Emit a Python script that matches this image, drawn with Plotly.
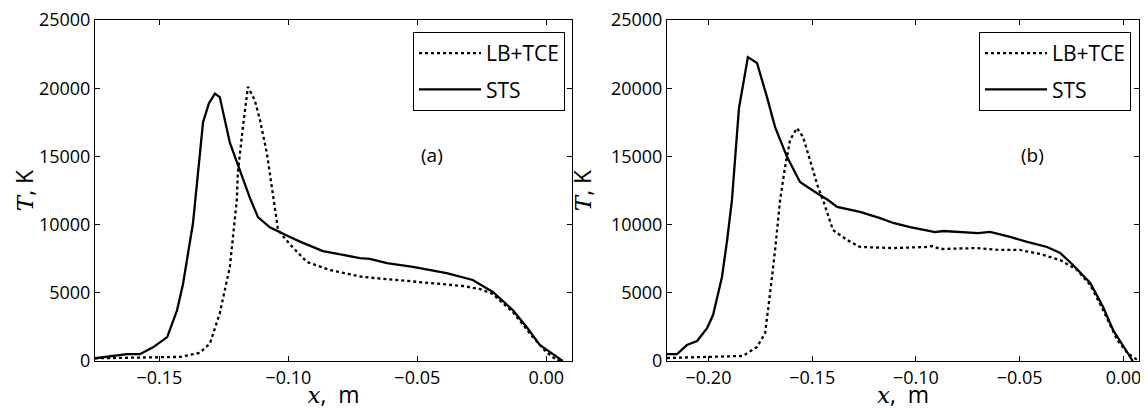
import plotly.graph_objects as go

# ---------- data ----------
# Panel (a)
a_sts_x = [-0.175, -0.1626, -0.1576, -0.1525, -0.147, -0.1432, -0.1409, -0.137, -0.1331, -0.1308,
           -0.1285, -0.1266, -0.1227, -0.1188, -0.115, -0.1118, -0.1072, -0.1006, -0.0955, -0.0866,
           -0.0828, -0.0723, -0.0684, -0.0618, -0.0517, -0.0386, -0.0285, -0.0207, -0.013, -0.0076,
           -0.0025, 0.0025, 0.0064]
a_sts_T = [200, 500, 500, 1000, 1750, 3700, 5600, 10100, 17500, 18900,
           19600, 19350, 16000, 14000, 12000, 10550, 9800, 9200, 8750, 8060,
           7920, 7550, 7480, 7180, 6900, 6450, 5940, 5060, 3740, 2500,
           1170, 510, 0]
a_lb_x = [-0.175, -0.142, -0.1343, -0.1304, -0.1266, -0.1227, -0.12, -0.1196, -0.1176, -0.1157,
          -0.113, -0.111, -0.1083, -0.106, -0.104, -0.0994, -0.0928, -0.0839, -0.0711, -0.058,
          -0.0452, -0.0324, -0.0258, -0.0207, -0.013, -0.0052, 0.0, 0.004, 0.006]
a_lb_T = [200, 300, 600, 1300, 3500, 6900, 11800, 13800, 17200, 20100,
          19100, 17650, 15200, 12000, 9600, 8550, 7260, 6670, 6160, 5940,
          5720, 5500, 5280, 4910, 3600, 1760, 660, 70, 0]

# Panel (b)
b_sts_x = [-0.22, -0.2152, -0.2104, -0.2055, -0.2007, -0.1978, -0.1935, -0.191, -0.1887, -0.1853,
           -0.181, -0.1766, -0.1718, -0.1679, -0.1621, -0.1559, -0.1477, -0.1424, -0.138, -0.1318,
           -0.127, -0.1173, -0.111, -0.1028, -0.098, -0.0908, -0.0869, -0.0787, -0.07, -0.0643,
           -0.0546, -0.0464, -0.0368, -0.0305, -0.0243, -0.016, -0.0098, -0.005, 0.0, 0.0033, 0.0045]
b_sts_T = [500, 500, 1170, 1470, 2400, 3370, 6160, 8870, 11800, 18550,
           22280, 21840, 19350, 17150, 14950, 13120, 12300, 11800, 11300, 11070,
           10930, 10480, 10120, 9820, 9680, 9450, 9530, 9450, 9380, 9460,
           9100, 8730, 8360, 7920, 7040, 5720, 3960, 2270, 1030, 220, 0]
b_lb_x = [-0.22, -0.2026, -0.1834, -0.1766, -0.1727, -0.1703, -0.1679, -0.1655, -0.1631, -0.1607,
          -0.1573, -0.1544, -0.151, -0.1472, -0.1448, -0.14, -0.1332, -0.127, -0.111, -0.0946,
          -0.0922, -0.0884, -0.0705, -0.0594, -0.0498, -0.0401, -0.0305, -0.0223, -0.016, -0.0098,
          -0.003, 0.0019, 0.0067, 0.0075]
b_lb_T = [220, 300, 370, 1030, 2050, 4980, 8140, 11800, 14220, 16200,
          17080, 16420, 14730, 12750, 11800, 9600, 8870, 8360, 8280, 8360,
          8430, 8210, 8280, 8140, 8140, 7840, 7400, 6670, 5570, 3740,
          1540, 590, 70, 0]

series_names = ["LB+TCE", "STS"]
panel_labels = ["(a)", "(b)"]

y_ticks = [0, 5000, 10000, 15000, 20000, 25000]
y_ticklabels = ["0", "5000", "10000", "15000", "20000", "25000"]
a_xticks = [-0.15, -0.10, -0.05, 0.00]
a_xticklabels = ["\u22120.15", "\u22120.10", "\u22120.05", "0.00"]
b_xticks = [-0.20, -0.15, -0.10, -0.05, 0.00]
b_xticklabels = ["\u22120.20", "\u22120.15", "\u22120.10", "\u22120.05", "0.00"]

# ---------- figure ----------
FONT = "Open Sans"
fig = go.Figure()

dot = dict(color="black", width=2.3, dash="3px,3px")
solid = dict(color="black", width=2.3)

fig.add_trace(go.Scatter(x=a_lb_x, y=a_lb_T, mode="lines", line=dot, name=series_names[0],
                         xaxis="x", yaxis="y", legend="legend", legendgroup="a1"))
fig.add_trace(go.Scatter(x=a_sts_x, y=a_sts_T, mode="lines", line=solid, name=series_names[1],
                         xaxis="x", yaxis="y", legend="legend", legendgroup="a2"))
fig.add_trace(go.Scatter(x=b_lb_x, y=b_lb_T, mode="lines", line=dot, name=series_names[0],
                         xaxis="x2", yaxis="y2", legend="legend2", legendgroup="b1"))
fig.add_trace(go.Scatter(x=b_sts_x, y=b_sts_T, mode="lines", line=solid, name=series_names[1],
                         xaxis="x2", yaxis="y2", legend="legend2", legendgroup="b2"))

axis_common = dict(showgrid=False, zeroline=False, showline=True, linecolor="black", linewidth=1,
                   mirror="ticks", ticks="inside", ticklen=5, tickwidth=1, tickcolor="black",
                   automargin=False, ticklabeloverflow="allow",
                   tickfont=dict(family=FONT, size=18, color="black"))

xtitle = dict(text="<span style='font-family:\"DejaVu Serif\"'><i>x</i></span>,  m",
              font=dict(family=FONT, size=23, color="black"), standoff=3)
ytitle = dict(text="<span style='font-family:\"DejaVu Serif\"'><i>T</i></span>, K",
              font=dict(family=FONT, size=23, color="black"), standoff=12)

# the page body adds an 8px offset; size the figure so the plot lands where the reference has it
W, H = 1140, 402
ML, MR, MT, MB = 87, 9, 12, 49
pw = W - ML - MR
d1 = 477 / pw
d2 = 572 / pw

legend_common = dict(xanchor="right", yanchor="top", xref="paper", yref="paper",
                     bordercolor="black", borderwidth=1, bgcolor="white",
                     font=dict(family=FONT, size=21, color="black"), itemwidth=62,
                     tracegroupgap=6)

fig.update_layout(
    width=W, height=H,
    margin=dict(l=ML, r=MR, t=MT, b=MB, autoexpand=False),
    paper_bgcolor="white", plot_bgcolor="white",
    xaxis=dict(domain=[0, d1], range=[-0.175, 0.01], tickvals=a_xticks, ticktext=a_xticklabels,
               title=xtitle, anchor="y", **axis_common),
    yaxis=dict(domain=[0, 1], range=[0, 25000], tickvals=y_ticks, ticktext=y_ticklabels,
               title=ytitle, anchor="x", **axis_common),
    xaxis2=dict(domain=[d2, 1], range=[-0.22, 0.0075], tickvals=b_xticks, ticktext=b_xticklabels,
                title=xtitle, anchor="y2", **axis_common),
    yaxis2=dict(domain=[0, 1], range=[0, 25000], tickvals=y_ticks, ticktext=y_ticklabels,
                title=ytitle, anchor="x2", **axis_common),
    legend=dict(x=(565 - 95) / pw, y=1 - (32 - 20) / 341, **legend_common),
    legend2=dict(x=(1131 - 95) / pw, y=1 - (32 - 20) / 341, **legend_common),
    showlegend=True,
)

fig.add_annotation(x=-0.0444, y=15100, xref="x", yref="y", text=panel_labels[0], showarrow=False,
                   font=dict(family=FONT, size=19, color="black"))
fig.add_annotation(x=-0.044, y=15100, xref="x2", yref="y2", text=panel_labels[1], showarrow=False,
                   font=dict(family=FONT, size=19, color="black"))

fig.write_html("out.html")
